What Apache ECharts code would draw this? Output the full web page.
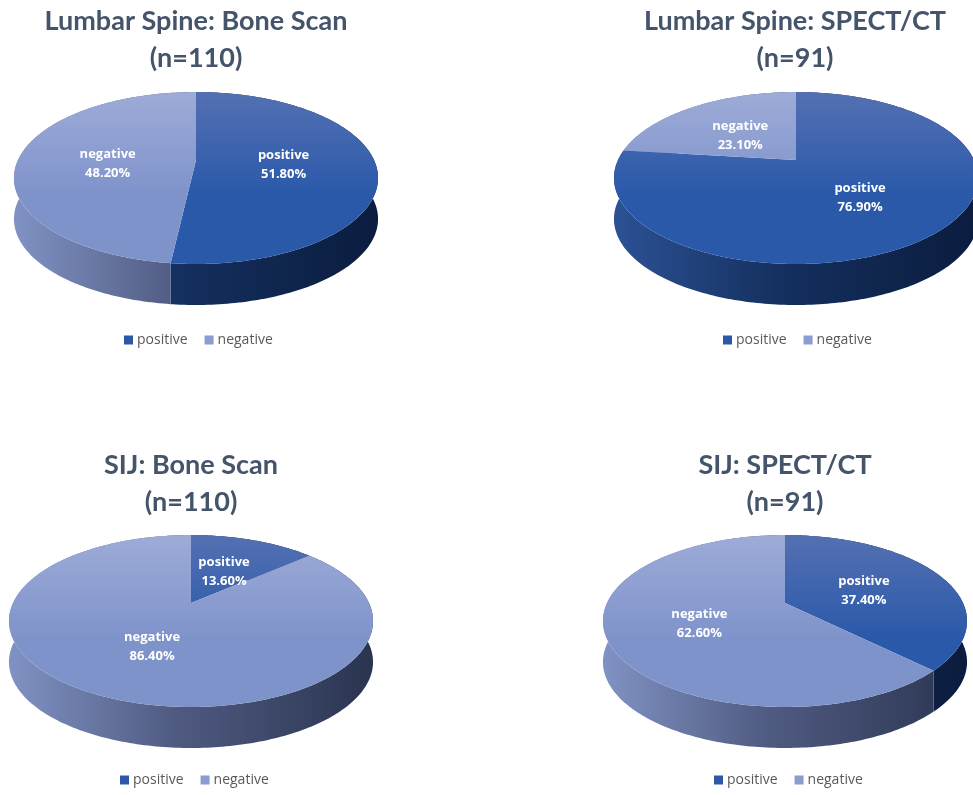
<!DOCTYPE html>
<html>
<head>
<meta charset="utf-8">
<style>
    html, body { margin: 0; background: #fff; }
    #main { width: 973px; height: 795px; }
</style>
<script src="https://cdn.jsdelivr.net/npm/echarts@6/dist/echarts.min.js"></script>
</head>
<body>
<div id="main"></div>
<script>
const categories = ['positive', 'negative'];
const titles = ['Lumbar Spine: Bone Scan', 'Lumbar Spine: SPECT/CT', 'SIJ: Bone Scan', 'SIJ: SPECT/CT'];
const sampleSizes = [110, 91, 110, 91];
const positiveShare = [51.8, 76.9, 13.6, 37.4];
const negativeShare = [48.2, 23.1, 86.4, 62.6];

// 每个饼的摆放位置：透视中心、标题、图例、标签半径和下移
const layouts = [
    {cx: 196, cy: 160, titleX: 196, titleY: 3, legendX: 124, legendY: 333, labelR: [0.49, 0.5], labelDy: [3, 6]},
    {cx: 796, cy: 160, titleX: 795, titleY: 3, legendX: 723, legendY: 333, labelR: [0.5, 0.51], labelDy: [4, 5]},
    {cx: 191, cy: 603, titleX: 191, titleY: 447, legendX: 120, legendY: 773, labelR: [0.49, 0.48], labelDy: [2, 4]},
    {cx: 785, cy: 603, titleX: 785, titleY: 447, legendX: 714, legendY: 773, labelR: [0.5, 0.5], labelDy: [3, 4]},
];

const radiusX = 178;
const radiusY = 82.2;
const perspective = 0.2095;
const wallDepth = 41;

const faceColors = {
    positive: ['#5470b2', '#2a59aa'],
    negative: ['#9dabd7', '#7f93cb'],
};
const wallColors = {
    positive: ['#2c5296', '#14305f', '#0b1c3e'],
    negative: ['#8193c4', '#505b82', '#2a3450'],
};
const legendColors = {positive: '#2b59a8', negative: '#8a9cd0'};

// 圆面上的点投影到屏幕（上方更远 所以更小）
function project(layout, deg, r) {
    const rad = deg * Math.PI / 180;
    const u = Math.sin(rad) * r;
    const v = Math.cos(rad) * r;
    const w = 1 + perspective * v;
    return {x: layout.cx + radiusX * u / w, y: layout.cy - radiusY * v / w};
}

function renderSlice(layout, catIndex, name) {
    return (params, api) => {
        const from = api.value(0) * 3.6;
        const to = (api.value(0) + api.value(1)) * 3.6;
        const rim = [];
        for (let deg = from; deg < to; deg += 1) rim.push(project(layout, deg, 1));
        rim.push(project(layout, to, 1));

        const top = layout.cy - radiusY / (1 + perspective);
        const bottom = layout.cy + radiusY / (1 - perspective);
        const left = layout.cx - radiusX * 1.03;
        const right = layout.cx + radiusX * 1.03;

        const facePoints = rim.map(p => [p.x, p.y]);
        facePoints.push([layout.cx, layout.cy]);
        const wallPoints = rim.map(p => [p.x, p.y])
            .concat(rim.slice().reverse().map(p => [p.x, p.y + wallDepth]));

        const mid = (from + to) / 2;
        const labelAt = project(layout, mid, layout.labelR[catIndex]);

        return {
            type: 'group',
            children: [
                {
                    type: 'polygon',
                    z2: 1,
                    shape: {points: wallPoints},
                    style: {
                        fill: new echarts.graphic.LinearGradient(left, 0, right, 0, [
                            {offset: 0, color: wallColors[name][0]},
                            {offset: 0.45, color: wallColors[name][1]},
                            {offset: 1, color: wallColors[name][2]},
                        ], true),
                    },
                },
                {
                    type: 'polygon',
                    z2: 2,
                    shape: {points: facePoints},
                    style: {
                        fill: new echarts.graphic.LinearGradient(0, top, 0, bottom, [
                            {offset: 0, color: faceColors[name][0]},
                            {offset: 0.6, color: faceColors[name][1]},
                            {offset: 1, color: faceColors[name][1]},
                        ], true),
                    },
                },
                {
                    type: 'text',
                    z2: 3,
                    style: {
                        x: labelAt.x,
                        y: labelAt.y + layout.labelDy[catIndex],
                        text: name + '\n' + api.value(1).toFixed(2) + '%',
                        fill: '#fff',
                        font: 'bold 13px "Open Sans"',
                        lineHeight: 19,
                        align: 'center',
                        verticalAlign: 'middle',
                    },
                },
            ],
        };
    };
}

const series = [];
layouts.forEach((layout, i) => {
    const shares = [positiveShare[i], negativeShare[i]];
    let start = 0;
    categories.forEach((name, c) => {
        series.push({
            name,
            type: 'custom',
            coordinateSystem: 'none',
            animation: false,
            silent: true,
            itemStyle: {color: legendColors[name]},
            renderItem: renderSlice(layout, c, name),
            data: [[start, shares[c]]],
        });
        start += shares[c];
    });
});

const option = {
    backgroundColor: '#fff',
    animation: false,
    title: layouts.map((layout, i) => ({
        text: titles[i] + '\n(n=' + sampleSizes[i] + ')',
        left: layout.titleX,
        top: layout.titleY,
        padding: 0,
        textAlign: 'center',
        textStyle: {
            color: '#44546a',
            fontFamily: 'Lato',
            fontWeight: 'bold',
            fontSize: 27,
            lineHeight: 37,
        },
    })),
    legend: layouts.map(layout => ({
        data: categories,
        left: layout.legendX,
        top: layout.legendY,
        padding: 0,
        icon: 'rect',
        itemWidth: 9,
        itemHeight: 9,
        itemGap: 17,
        selectedMode: false,
        textStyle: {color: '#595959', fontFamily: 'Open Sans', fontSize: 14, padding: [0, 0, 0, -1]},
    })),
    series,
};

const myChart = echarts.init(document.getElementById('main'), null, {renderer: 'canvas'});
myChart.setOption(option);
</script>
</body>
</html>
